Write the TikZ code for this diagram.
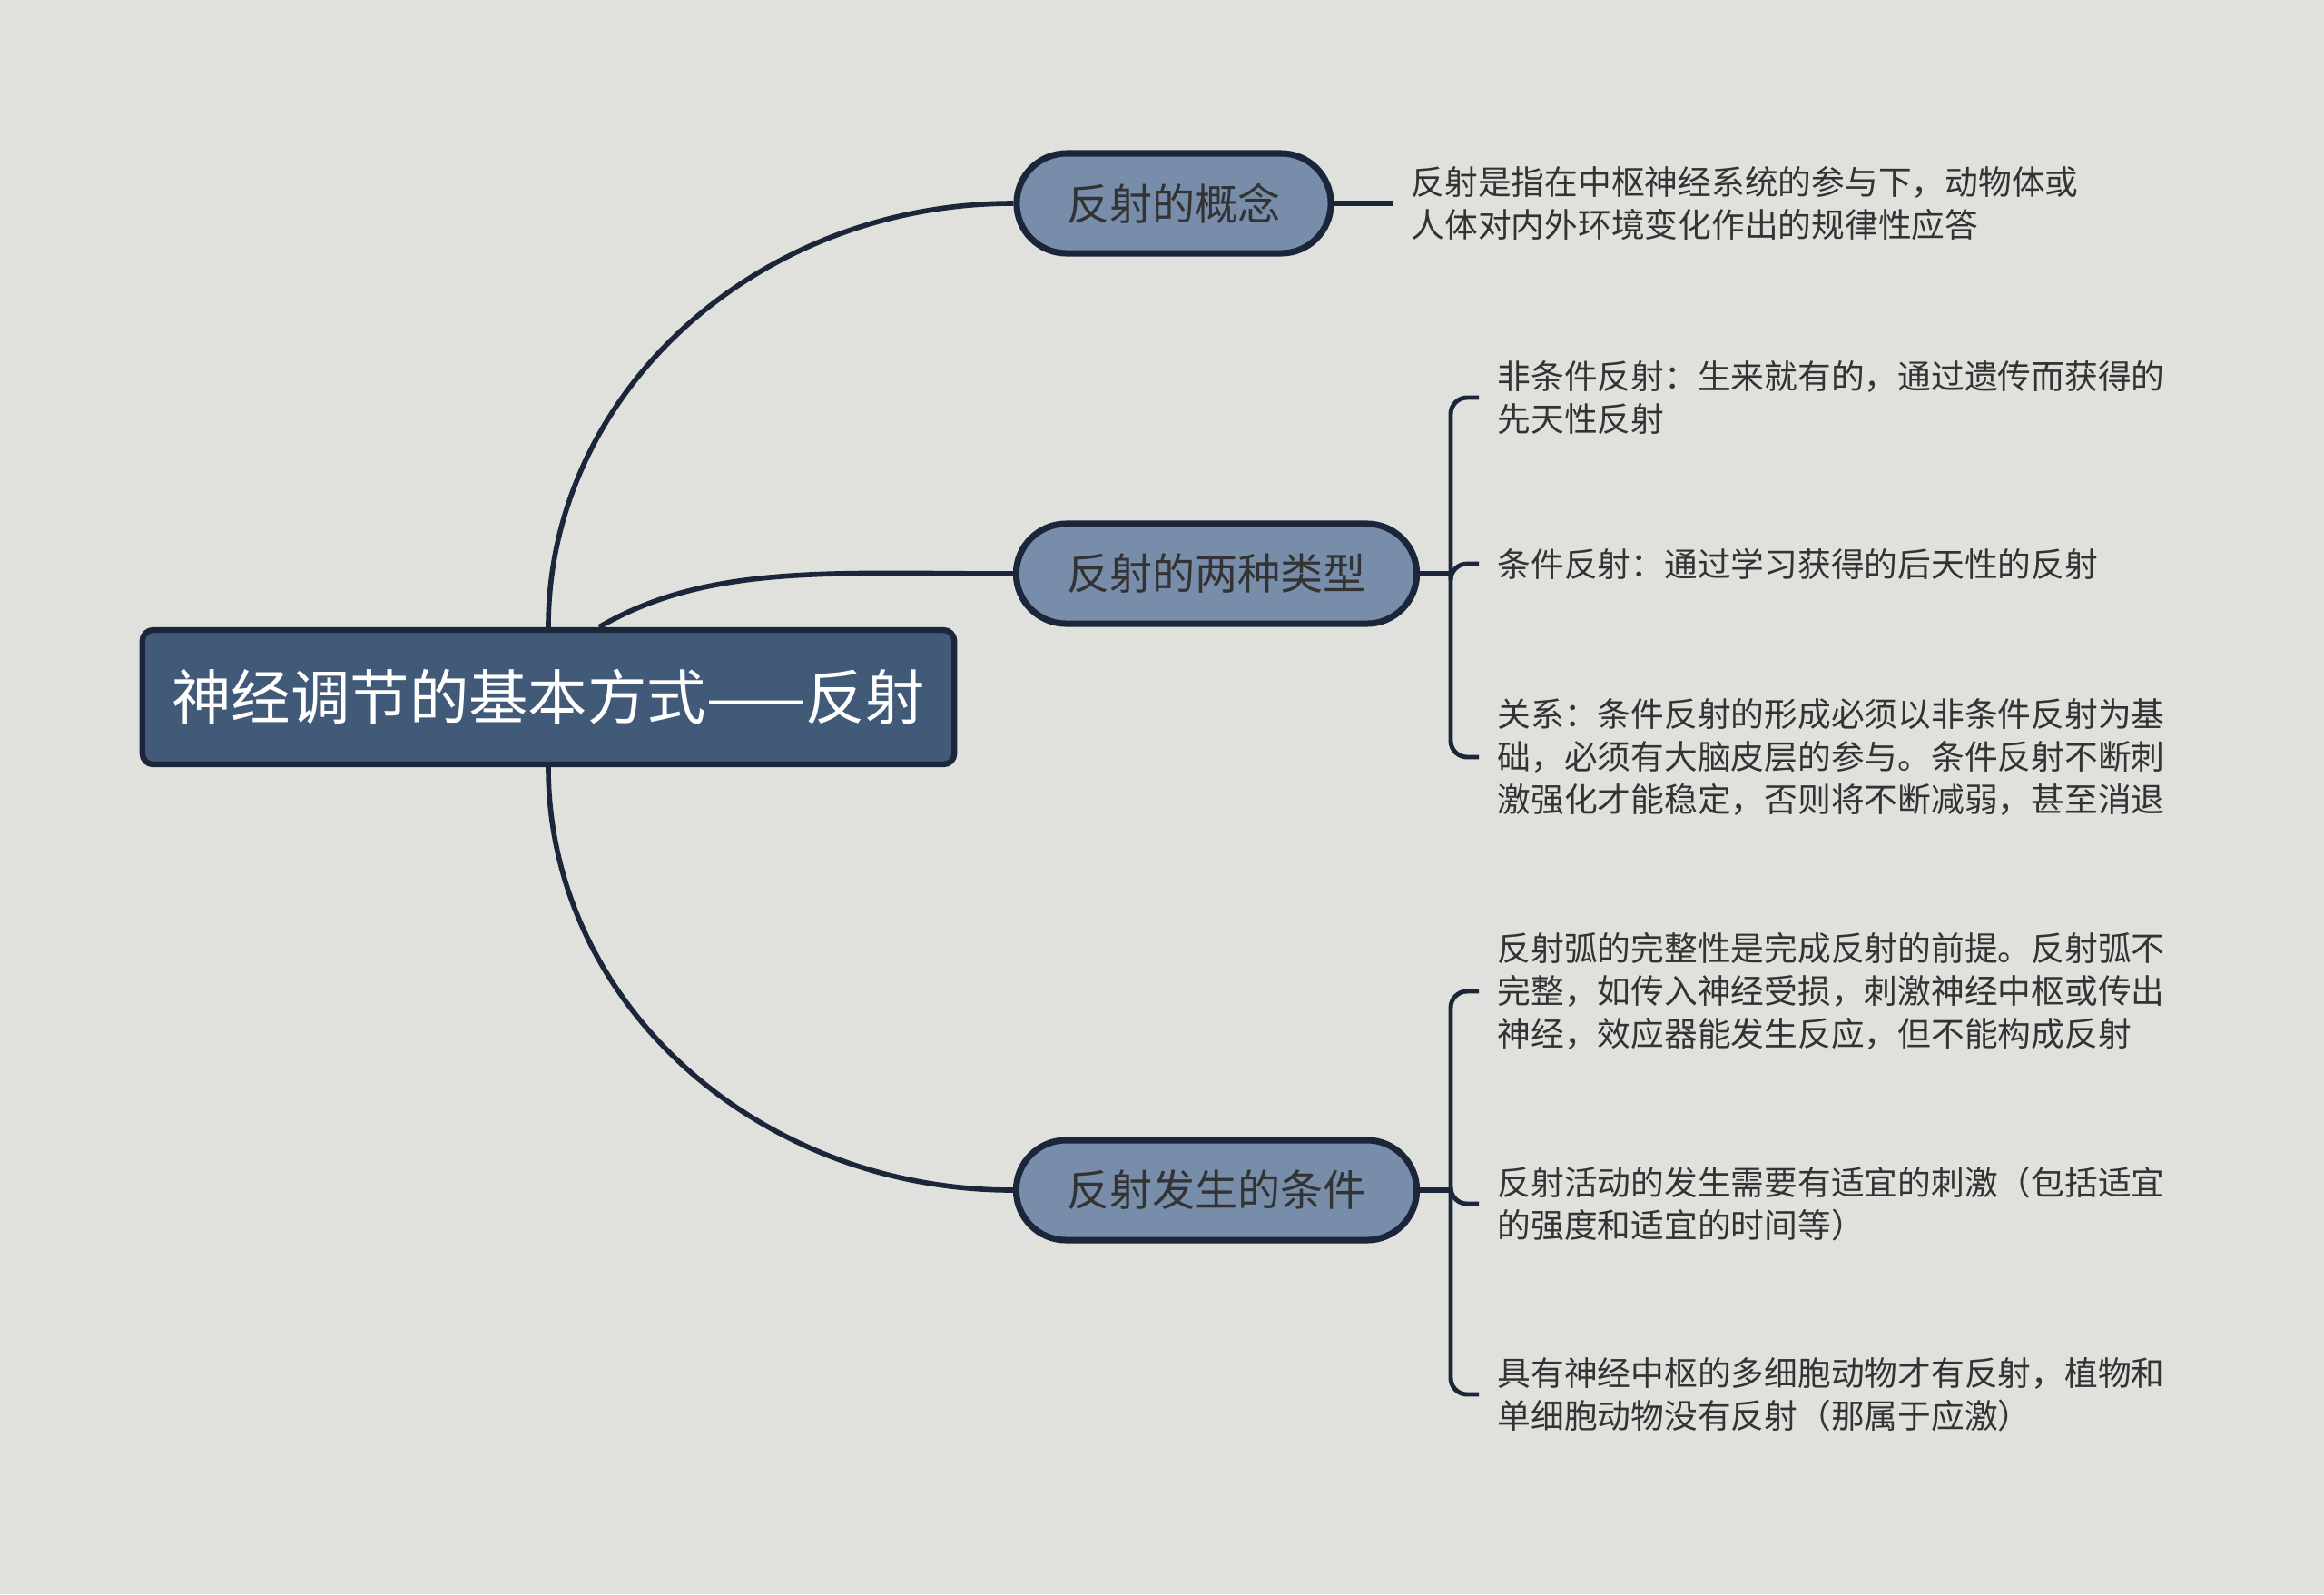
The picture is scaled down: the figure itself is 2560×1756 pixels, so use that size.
\documentclass[tikz,border=0pt]{standalone}
\usepackage{fontspec}
\setmainfont{Noto Sans CJK SC}
\usetikzlibrary{positioning}
\definecolor{mmBack}{HTML}{E0E1DD}
\definecolor{mmRoot}{HTML}{415A77}
\definecolor{mmTopic}{HTML}{778DA9}
\definecolor{mmLine}{HTML}{1B263B}
\definecolor{mmText}{HTML}{333333}

\begin{document}
\begin{tikzpicture}[
    x=0.01cm, y=-0.01cm,
    root/.style={draw=mmLine, line width=1.8pt, rounded corners=0.12cm, fill=mmRoot, text=white, minimum width=8.94cm, minimum height=1.48cm, font=\fontsize{18.6}{22}\selectfont},
    topic/.style={draw=mmLine, line width=2pt, rounded corners=0.55cm, fill=mmTopic, text=mmText, minimum height=1.1cm, font=\fontsize{13.4}{16}\selectfont},
    leaf/.style={anchor=west, align=left, inner xsep=0.2cm, inner ysep=0pt, text=mmText, font=\fontsize{10.45}{13.4}\selectfont},
    branch/.style={mmLine, line width=1.6pt},
    bracket/.style={mmLine, line width=1.4pt, rounded corners=0.18cm}
]
    \useasboundingbox (0,0) rectangle (2560,1756);
    \fill[mmBack] (0,0) rectangle (2560,1756);

    \node[root] (root) at (604,768) {神经调节的基本方式——反射};
    \node[topic, minimum width=3.46cm] (concept) at (1293,224) {反射的概念};
    \node[topic, minimum width=4.41cm] (types) at (1340,632) {反射的两种类型};
    \node[topic, minimum width=4.41cm] (cond) at (1340,1311) {反射发生的条件};

    \node[leaf] (def) at (1534,224) {反射是指在中枢神经系统的参与下，动物体或\\人体对内外环境变化作出的规律性应答};
    \node[leaf] (uncond) at (1629,438) {非条件反射：生来就有的，通过遗传而获得的\\先天性反射};
    \node[leaf] (condref) at (1629,621) {条件反射：通过学习获得的后天性的反射};
    \node[leaf] (relation) at (1629,834) {关系：条件反射的形成必须以非条件反射为基\\础，必须有大脑皮层的参与。条件反射不断刺\\激强化才能稳定，否则将不断减弱，甚至消退};
    \node[leaf] (arc) at (1629,1092) {反射弧的完整性是完成反射的前提。反射弧不\\完整，如传入神经受损，刺激神经中枢或传出\\神经，效应器能发生反应，但不能构成反射};
    \node[leaf] (stim) at (1629,1326) {反射活动的发生需要有适宜的刺激（包括适宜\\的强度和适宜的时间等）};
    \node[leaf] (animal) at (1629,1536) {具有神经中枢的多细胞动物才有反射，植物和\\单细胞动物没有反射（那属于应激）};

    \coordinate (typesHub) at (1598,632);
    \coordinate (condHub) at (1598,1311);

    \draw[branch] (root.north) .. controls +(0,-259) and +(-282,0) .. (concept.west);
    \draw[branch] ([xshift=0.56cm]root.north) .. controls +(120,-70) and +(-200,0) .. (types.west);
    \draw[branch] (root.south) .. controls +(0,259) and +(-282,0) .. (cond.west);

    \draw[branch] (concept.east) -- (def.west);
    \draw[branch] (types.east) -- (typesHub);
    \draw[branch] (cond.east) -- (condHub);

    \draw[bracket] (typesHub) |- (uncond.west);
    \draw[bracket] (typesHub) |- (condref.west);
    \draw[bracket] (typesHub) |- (relation.west);
    \draw[bracket] (condHub) |- (arc.west);
    \draw[bracket] (condHub) |- (stim.west);
    \draw[bracket] (condHub) |- (animal.west);
\end{tikzpicture}
\end{document}
